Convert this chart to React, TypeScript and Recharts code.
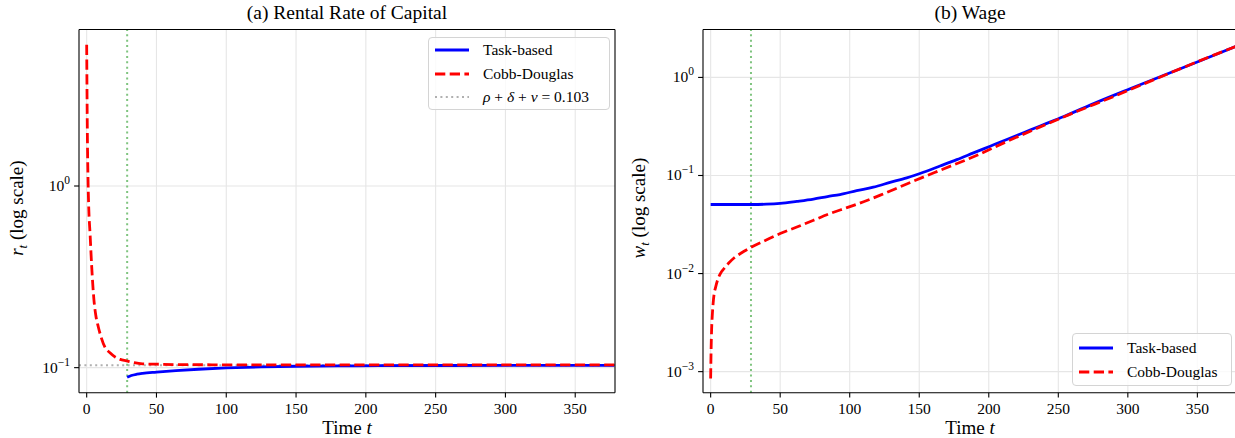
import React from "react";
import { LineChart, Line, XAxis, YAxis, ReferenceLine } from "recharts";

const FONT = '"Liberation Serif", "DejaVu Serif", serif';

// shared time axis
const xTicks = [0, 50, 100, 150, 200, 250, 300, 350];
const xDomain = [-5.5, 378.5];
const shockT = 29;

// (a) rental rate of capital
const rentTaskT = [29, 32, 36, 40, 50, 64, 80, 100, 125, 150, 180, 210, 260, 320, 378];
const rentTaskV = [0.0886, 0.0905, 0.092, 0.093, 0.0945, 0.0963, 0.098, 0.0996, 0.1009, 0.1018, 0.1022, 0.1025, 0.1028, 0.103, 0.103];
const rentCobbT = [0, 0.5, 1, 1.5, 2.4, 3.6, 5.2, 6.5, 8.3, 10.5, 13, 16.5, 20, 24, 28.5, 34, 40, 50, 64, 90, 150, 250, 378];
const rentCobbV = [6.0, 1.9, 1.05, 0.75, 0.55, 0.36, 0.236, 0.195, 0.168, 0.146, 0.13, 0.121, 0.115, 0.111, 0.109, 0.1065, 0.105, 0.1045, 0.104, 0.1037, 0.1035, 0.1035, 0.1035];
const steadyR = 0.103;
const rentDomain = [0.0728, 7.27];
const rentMajor = [0.1, 1];
const rentMinor = [0.08, 0.09, 0.2, 0.3, 0.4, 0.5, 0.6, 0.7, 0.8, 0.9, 2, 3, 4, 5, 6, 7];

// (b) wage
const wageTaskT = [0, 10, 20, 30, 40, 50, 62, 74, 84, 93, 105, 117, 129, 141, 153, 165, 177, 189, 201, 213, 225, 237, 254, 278, 302, 325, 349, 378];
const wageTaskV = [0.0506, 0.0506, 0.0506, 0.0506, 0.051, 0.052, 0.0545, 0.0575, 0.061, 0.064, 0.07, 0.076, 0.085, 0.0947, 0.108, 0.125, 0.145, 0.17, 0.199, 0.233, 0.273, 0.32, 0.4, 0.56, 0.77, 1.04, 1.42, 2.08];
const wageCobbT = [0, 0.3, 0.7, 1.2, 1.8, 2.5, 3.5, 5, 7, 9.5, 13, 17, 22, 29, 40, 50, 62, 74, 86, 98, 110, 122, 141, 165, 189, 213, 237, 260, 290, 320, 350, 378];
const wageCobbV = [0.00085, 0.0016, 0.0027, 0.0038, 0.005, 0.0062, 0.0072, 0.0086, 0.01, 0.0112, 0.0128, 0.0145, 0.0162, 0.0185, 0.022, 0.0256, 0.0298, 0.035, 0.041, 0.047, 0.054, 0.063, 0.082, 0.113, 0.155, 0.222, 0.313, 0.43, 0.64, 0.965, 1.445, 2.08];
const wageDomain = [0.00061, 3.08];
const wageMajor = [0.001, 0.01, 0.1, 1];
const wageMinor = [
  0.0007, 0.0008, 0.0009,
  0.002, 0.003, 0.004, 0.005, 0.006, 0.007, 0.008, 0.009,
  0.02, 0.03, 0.04, 0.05, 0.06, 0.07, 0.08, 0.09,
  0.2, 0.3, 0.4, 0.5, 0.6, 0.7, 0.8, 0.9,
  2, 3,
];

const toRows = (ts: number[], vs: number[]) => ts.map((t, i) => ({ t, v: vs[i] }));

const BLUE = "#0000ff";
const RED = "#ff0000";
const GRID = "#e6e6e6";
const GREEN = "#7fc47f";
const GREY = "#b0b0b0";

const YTick = (props: any) => {
  const { x, y, payload } = props;
  const v = payload.value;
  const lg = Math.log10(v);
  const exp = Math.round(lg);
  const major = Math.abs(lg - exp) < 1e-6;
  const len = major ? 4.9 : 2.8;
  return (
    <g>
      <line x1={x - len} x2={x} y1={y} y2={y} stroke="#000" strokeWidth={1.1} />
      {major && (
        <text x={x - 9} y={y + 5} textAnchor="end" fontFamily={FONT} fontSize={15.5} fill="#000">
          10
          <tspan dy={-7} fontSize={11.5}>
            {exp < 0 ? `\u2212${-exp}` : `${exp}`}
          </tspan>
        </text>
      )}
    </g>
  );
};

const XTick = (props: any) => {
  const { x, y, payload } = props;
  return (
    <g>
      <line x1={x} x2={x} y1={y} y2={y + 4.9} stroke="#000" strokeWidth={1.1} />
      <text x={x} y={y + 21} textAnchor="middle" fontFamily={FONT} fontSize={15.5} fill="#000">
        {payload.value}
      </text>
    </g>
  );
};

const timeLabel = (props: any) => {
  const vb = props.viewBox;
  return (
    <text x={vb.x + vb.width / 2} y={434} textAnchor="middle" fontFamily={FONT} fontSize={19} fill="#000">
      Time <tspan fontStyle="italic">t</tspan>
    </text>
  );
};

const yLabel = (sym: string, cx: number) => (props: any) => {
  const vb = props.viewBox;
  const cy = vb.y + vb.height / 2 - 3;
  return (
    <text
      x={cx}
      y={cy}
      transform={`rotate(-90 ${cx} ${cy})`}
      textAnchor="middle"
      fontFamily={FONT}
      fontSize={19}
      fill="#000"
    >
      <tspan fontStyle="italic">{sym}</tspan>
      <tspan fontStyle="italic" fontSize={13} dy={4}>t</tspan>
      <tspan dy={-4}> (log scale)</tspan>
    </text>
  );
};

const Handle = ({ color, dash, width }: { color: string; dash?: string; width: number }) => (
  <svg width={34} height={10} style={{ display: "block" }}>
    <line x1={0} x2={34} y1={5} y2={5} stroke={color} strokeWidth={width} strokeDasharray={dash} />
  </svg>
);

const legendRow = (handle: React.ReactNode, label: React.ReactNode) => (
  <div style={{ display: "flex", alignItems: "center", height: 24 }}>
    <div style={{ width: 48, flex: "none" }}>{handle}</div>
    <div style={{ fontFamily: FONT, fontSize: 15.5, color: "#000", whiteSpace: "nowrap" }}>{label}</div>
  </div>
);

const legendBox: React.CSSProperties = {
  position: "absolute",
  border: "1px solid #d4d4d4",
  borderRadius: 4,
  background: "rgba(255,255,255,0.8)",
  padding: "0 6px",
  boxSizing: "border-box",
  display: "flex",
  flexDirection: "column",
  justifyContent: "center",
};

export default function App() {
  const rentTask = toRows(rentTaskT, rentTaskV);
  const rentCobb = toRows(rentCobbT, rentCobbV);
  const wageTask = toRows(wageTaskT, wageTaskV);
  const wageCobb = toRows(wageCobbT, wageCobbV);

  return (
    <div style={{ position: "fixed", left: 0, top: 0, width: 1235, height: 438, background: "#fff", overflow: "hidden" }}>
      {/* Panel (a) */}
      <div style={{ position: "absolute", left: 0, top: 0 }}>
        <LineChart width={620} height={438} margin={{ top: 29.5, right: 5, bottom: 0, left: 0 }}>
          <XAxis
            dataKey="t"
            type="number"
            domain={xDomain}
            ticks={xTicks}
            allowDataOverflow
            tickSize={0}
            tickMargin={0}
            tick={<XTick />}
            tickLine={false}
            axisLine={{ stroke: "#000", strokeWidth: 1.1 }}
            height={45.3}
            label={{ content: timeLabel }}
          />
          <YAxis
            type="number"
            scale="log"
            domain={rentDomain}
            ticks={[...rentMinor, ...rentMajor]}
            allowDataOverflow
            width={79}
            tickSize={0}
            tickMargin={0}
            tick={<YTick />}
            tickLine={false}
            axisLine={{ stroke: "#000", strokeWidth: 1.1 }}
            label={{ content: yLabel("r", 23) }}
          />
          {xTicks.map((t) => (
            <ReferenceLine key={`gx${t}`} x={t} stroke={GRID} strokeWidth={1.1} />
          ))}
          {rentMajor.map((v) => (
            <ReferenceLine key={`gy${v}`} y={v} stroke={GRID} strokeWidth={1.1} />
          ))}
          <ReferenceLine y={steadyR} stroke={GREY} strokeWidth={2} strokeDasharray="2 3.4" />
          <ReferenceLine x={shockT} stroke={GREEN} strokeWidth={2} strokeDasharray="2 3.4" />
          <Line data={rentTask} dataKey="v" type="monotone" stroke={BLUE} strokeWidth={2.8} dot={false} isAnimationActive={false} />
          <Line data={rentCobb} dataKey="v" type="monotone" stroke={RED} strokeWidth={2.8} strokeDasharray="10.3 4.4" dot={false} isAnimationActive={false} />
          <ReferenceLine y={rentDomain[1]} stroke="#000" strokeWidth={1.1} />
          <ReferenceLine x={xDomain[1]} stroke="#000" strokeWidth={1.1} />
        </LineChart>
        <div
          style={{
            position: "absolute",
            left: 79,
            top: 2,
            width: 536,
            textAlign: "center",
            fontFamily: FONT,
            fontSize: 19.5,
            color: "#000",
          }}
        >
          (a) Rental Rate of Capital
        </div>
        <div style={{ ...legendBox, left: 428, top: 37, width: 182, height: 73 }}>
          {legendRow(<Handle color={BLUE} width={2.8} />, "Task-based")}
          {legendRow(<Handle color={RED} width={2.8} dash="10.3 4.4" />, "Cobb-Douglas")}
          {legendRow(
            <Handle color={GREY} width={2} dash="2 3.4" />,
            <span>
              <i>ρ</i> + <i>δ</i> + <i>ν</i> = 0.103
            </span>
          )}
        </div>
      </div>

      {/* Panel (b) */}
      <div style={{ position: "absolute", left: 620, top: 0 }}>
        <LineChart width={620} height={438} margin={{ top: 29.5, right: 3, bottom: 0, left: 0 }}>
          <XAxis
            dataKey="t"
            type="number"
            domain={xDomain}
            ticks={xTicks}
            allowDataOverflow
            tickSize={0}
            tickMargin={0}
            tick={<XTick />}
            tickLine={false}
            axisLine={{ stroke: "#000", strokeWidth: 1.1 }}
            height={45.3}
            label={{ content: timeLabel }}
          />
          <YAxis
            type="number"
            scale="log"
            domain={wageDomain}
            ticks={[...wageMinor, ...wageMajor]}
            allowDataOverflow
            width={83}
            tickSize={0}
            tickMargin={0}
            tick={<YTick />}
            tickLine={false}
            axisLine={{ stroke: "#000", strokeWidth: 1.1 }}
            label={{ content: yLabel("w", 25) }}
          />
          {xTicks.map((t) => (
            <ReferenceLine key={`gx${t}`} x={t} stroke={GRID} strokeWidth={1.1} />
          ))}
          {wageMajor.map((v) => (
            <ReferenceLine key={`gy${v}`} y={v} stroke={GRID} strokeWidth={1.1} />
          ))}
          <ReferenceLine x={shockT} stroke={GREEN} strokeWidth={2} strokeDasharray="2 3.4" />
          <Line data={wageTask} dataKey="v" type="monotone" stroke={BLUE} strokeWidth={2.8} dot={false} isAnimationActive={false} />
          <Line data={wageCobb} dataKey="v" type="monotone" stroke={RED} strokeWidth={2.8} strokeDasharray="10.3 4.4" dot={false} isAnimationActive={false} />
          <ReferenceLine y={wageDomain[1]} stroke="#000" strokeWidth={1.1} />
        </LineChart>
        <div
          style={{
            position: "absolute",
            left: 83,
            top: 2,
            width: 534,
            textAlign: "center",
            fontFamily: FONT,
            fontSize: 19.5,
            color: "#000",
          }}
        >
          (b) Wage
        </div>
        <div style={{ ...legendBox, left: 452, top: 333, width: 160, height: 53 }}>
          {legendRow(<Handle color={BLUE} width={2.8} />, "Task-based")}
          {legendRow(<Handle color={RED} width={2.8} dash="10.3 4.4" />, "Cobb-Douglas")}
        </div>
      </div>
    </div>
  );
}
